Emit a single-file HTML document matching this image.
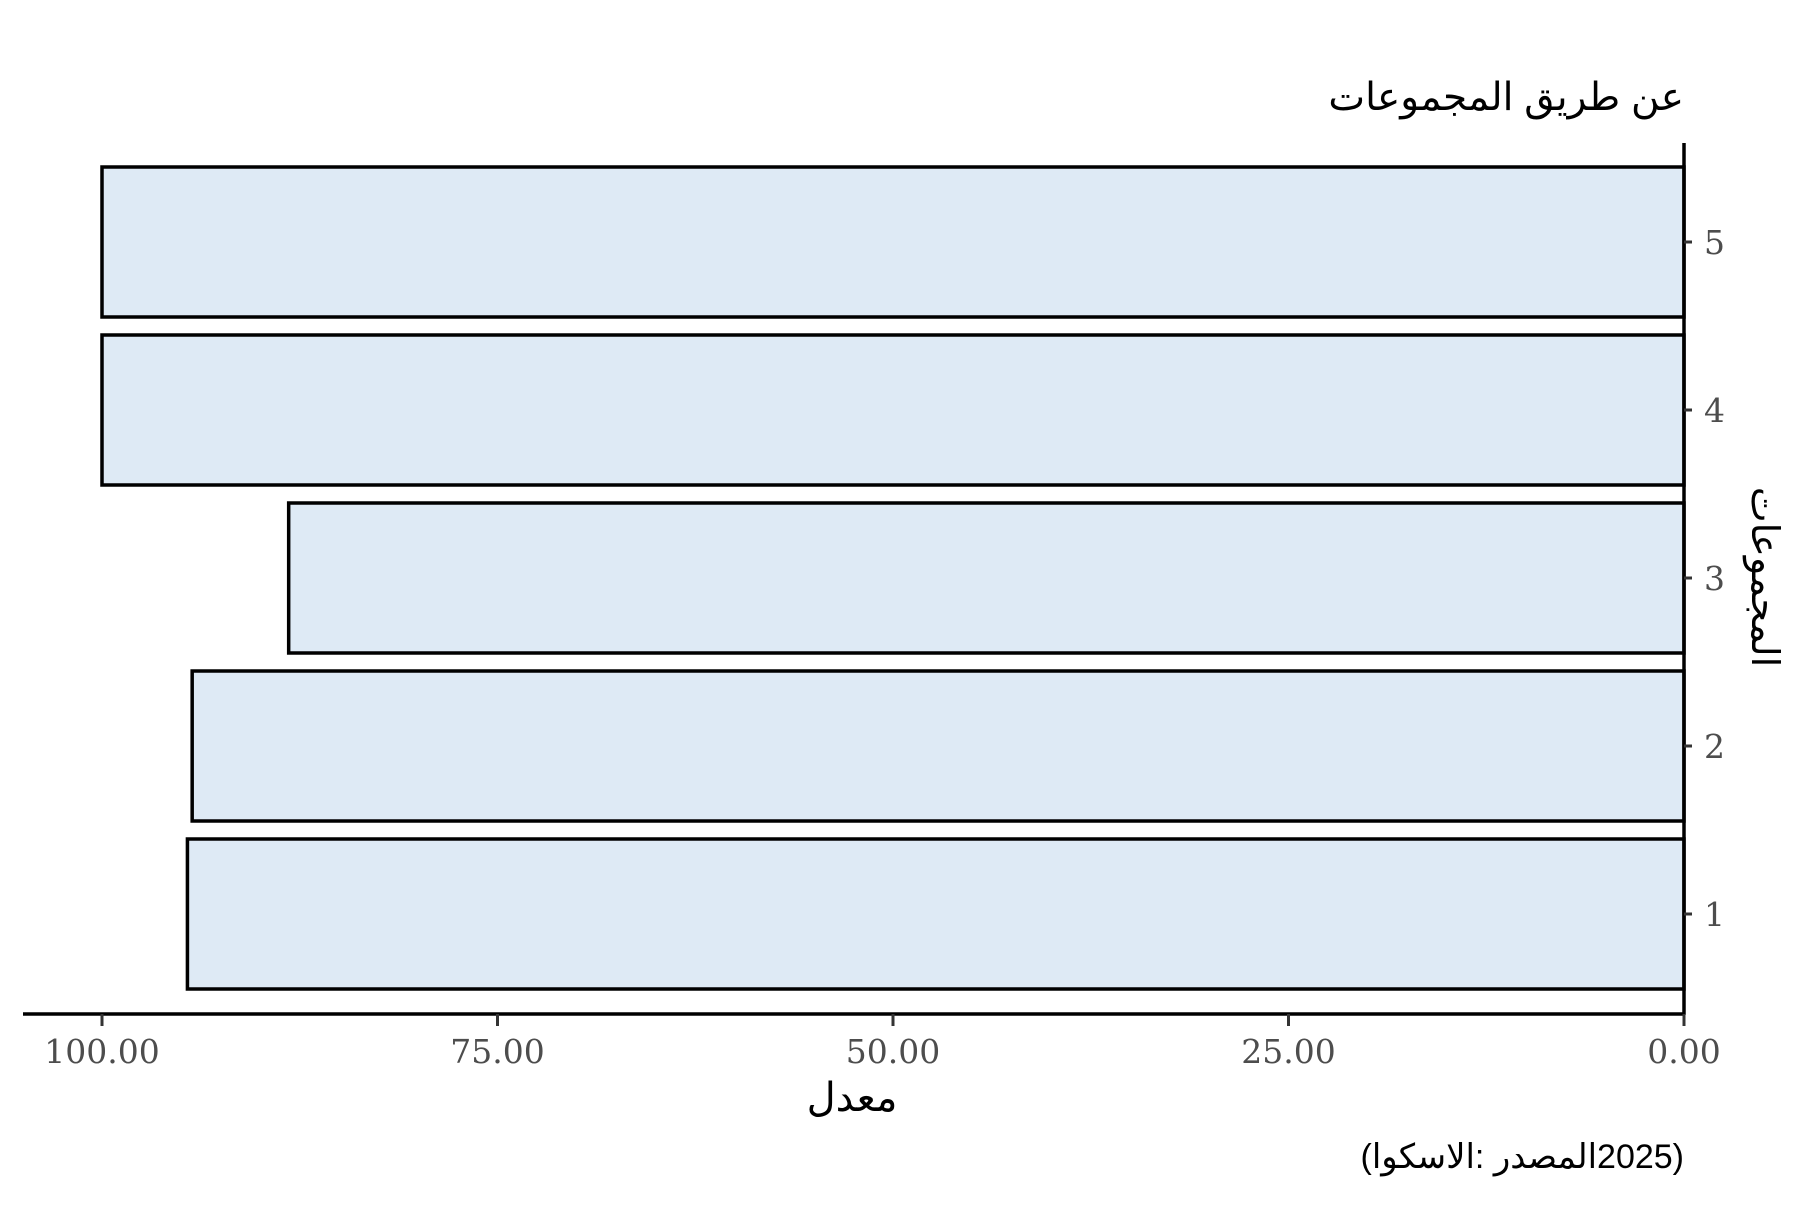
<!DOCTYPE html>
<html><head><meta charset="utf-8"><style>
body{margin:0;background:#fff}
svg text{font-family:"Liberation Sans","Noto Sans CJK SC","DejaVu Sans",sans-serif}
.tick{font-family:"DejaVu Serif","Liberation Serif",serif;fill:#4d4d4d;font-size:33px}
</style></head><body>
<svg id="chart" width="1800" height="1200" viewBox="0 0 1800 1200">
<text x="1684" y="110" text-anchor="end" font-size="39" fill="#000">عن طريق المجموعات</text>
<g id="bars"></g>
<g id="axes"></g>
<text x="852" y="1111" text-anchor="middle" font-size="40" fill="#000">معدل</text>
<text transform="translate(1752,577) rotate(90)" text-anchor="middle" font-size="38" fill="#000">المجموعات</text>
<g id="caption" font-size="34" fill="#000">
<text id="c1" x="1684" y="1168" text-anchor="end">)</text>
<text id="c3" x="1684" y="1168" text-anchor="end">2025</text>
<text id="c2" x="1684" y="1168" text-anchor="end">المصدر :الاسكوا</text>
<text id="c4" x="1684" y="1168" text-anchor="end">(</text>
</g>
</svg>
<script>
const categories=["1","2","3","4","5"];
const values=[94.6,94.3,88.2,100,100];
const xTicks=[100,75,50,25,0];
const xTickLabels=["100.00","75.00","50.00","25.00","0.00"];
const NS="http://www.w3.org/2000/svg";
const x0=1684,x100=102;
function xs(v){return x0+(x100-x0)*v/100;}
const yTop=158,band=168;
function yc(i){return yTop+band*(categories.length-1-i)+band/2;}
function mk(t,a,p){const e=document.createElementNS(NS,t);for(const k in a)e.setAttribute(k,a[k]);p.appendChild(e);return e;}
const bars=document.getElementById('bars'),axes=document.getElementById('axes');
values.forEach((v,i)=>{
 const r=mk('rect',{x:xs(v),y:yc(i)-75,width:x0-xs(v),height:150,fill:'#deeaf5',stroke:'#000','stroke-width':3.5},bars);
 
 
});
const ya=mk('line',{x1:x0,y1:143,x2:x0,y2:1015,stroke:'#000','stroke-width':3.5},axes);


const xa=mk('line',{x1:23,y1:1014,x2:x0+1.5,y2:1014,stroke:'#000','stroke-width':3.5},axes);


categories.forEach((c,i)=>{
 const t=mk('line',{x1:x0,y1:yc(i),x2:x0+8,y2:yc(i),stroke:'#333','stroke-width':3},axes);
 
 
 const l=mk('text',{x:x0+20,y:yc(i)+12,class:'tick'},axes);l.textContent=c;
 
 
});
xTicks.forEach((v,i)=>{
 const t=mk('line',{x1:xs(v),y1:1014,x2:xs(v),y2:1026,stroke:'#333','stroke-width':3},axes);
 
 
 const l=mk('text',{x:xs(v),y:1063,class:'tick','text-anchor':'middle'},axes);l.textContent=xTickLabels[i];
 
 
});
let cx=1684;
['c1','c3','c2','c4'].forEach(id=>{const e=document.getElementById(id);e.setAttribute('x',cx);cx-=e.getComputedTextLength();});
</script>
</body></html>
